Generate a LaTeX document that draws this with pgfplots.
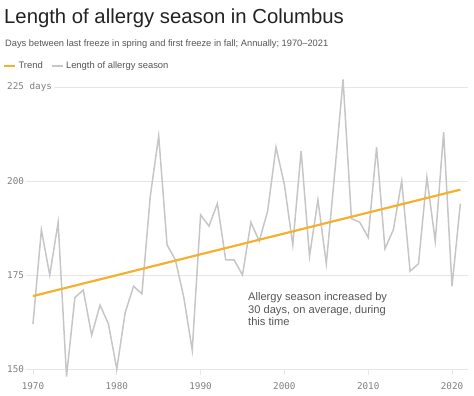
\documentclass[border=0pt]{standalone}
\usepackage{fontspec}
\setmainfont{Liberation Sans}
\newfontfamily\monofont{DejaVu Sans Mono}
\usepackage{pgfplots}
\pgfplotsset{compat=1.18}
\usepackage{pgfplotstable}
\definecolor{trendc}{HTML}{F5B030}
\definecolor{datac}{HTML}{C6C6C6}
\definecolor{gridc}{HTML}{E6E6E6}
\definecolor{tickc}{HTML}{808080}
\definecolor{titlec}{HTML}{222222}
\definecolor{subc}{HTML}{555555}

\pgfplotstableread{
year days
1970 162
1971 187
1972 175
1973 189
1974 148
1975 169
1976 171
1977 159
1978 167
1979 162
1980 150
1981 165
1982 172
1983 170
1984 196
1985 212
1986 183
1987 179
1988 169
1989 155
1990 191
1991 188
1992 194
1993 179
1994 179
1995 175
1996 189
1997 184
1998 192
1999 209
2000 199
2001 183
2002 208
2003 180
2004 195
2005 178
2006 202
2007 227
2008 190
2009 189
2010 185
2011 209
2012 182
2013 187
2014 200
2015 176
2016 178
2017 201
2018 184
2019 213
2020 172
2021 194
}\seasondata

\pgfplotstableread{
year days
1970 169.4
2021 197.7
}\trenddata

\begin{document}
\begin{tikzpicture}
\begin{axis}[
  set layers,
  at={(5bp,27bp)}, anchor=south west,
  scale only axis,
  width=463bp, height=282bp,
  xmin=1966.66, xmax=2021.91,
  ymin=150, ymax=225,
  clip=false,
  axis line style={draw=none},
  xtick={1970,1980,1990,2000,2010,2020},
  xticklabels={1970,1980,1990,2000,2010,2020},
  ytick={150,175,200,225},
  yticklabels={150,175,200,225 days},
  xtick pos=left, ytick pos=left,
  xtick align=outside,
  major tick length=6bp,
  xtick style={draw=gridc, line width=0.8bp},
  ytick style={draw=none},
  ymajorgrids,
  grid style={draw=gridc, line width=0.8bp},
  xticklabel style={font=\monofont\fontsize{9.3bp}{10bp}\selectfont, text=tickc, yshift=-4.5bp},
  yticklabel style={font=\monofont\fontsize{9.3bp}{10bp}\selectfont, text=tickc, anchor=west, fill=white, inner sep=2bp},
  legend style={at={(-0.004,1.0745)}, anchor=west, draw=none, fill=none,
    inner sep=0pt, font=\fontsize{9.4bp}{11bp}\selectfont, text=subc,
    /tikz/every even column/.append style={column sep=7bp}},
  legend columns=2,
  legend cell align=left,
  legend image code/.code={\draw[#1] (0bp,0bp) -- (11bp,0bp);},
]
\addlegendimage{trendc, line width=2.2bp}
\addlegendentry{Trend}
\addlegendimage{datac, line width=1.3bp}
\addlegendentry{Length of allergy season}
\addplot[datac, line width=1.5bp, forget plot] table[x=year, y=days] {\seasondata};
\addplot[trendc, line width=2.2bp, forget plot] table[x=year, y=days] {\trenddata};
\end{axis}
\node[anchor=base west, inner sep=0pt, text=titlec, font=\fontsize{20.3bp}{24bp}\selectfont] at (4bp,372bp) {Length of allergy season in Columbus};
\node[anchor=base west, inner sep=0pt, text=subc, font=\fontsize{9.3bp}{11bp}\selectfont] at (5bp,349bp) {Days between last freeze in spring and first freeze in fall; Annually; 1970–2021};
\node[anchor=north west, inner sep=0pt, align=left, text=subc, font=\fontsize{11.1bp}{12.8bp}\selectfont] at (248bp,104bp) {Allergy season increased by\\30 days, on average, during\\this time};
\path (0,0) rectangle (474bp,396bp);
\end{tikzpicture}
\end{document}
